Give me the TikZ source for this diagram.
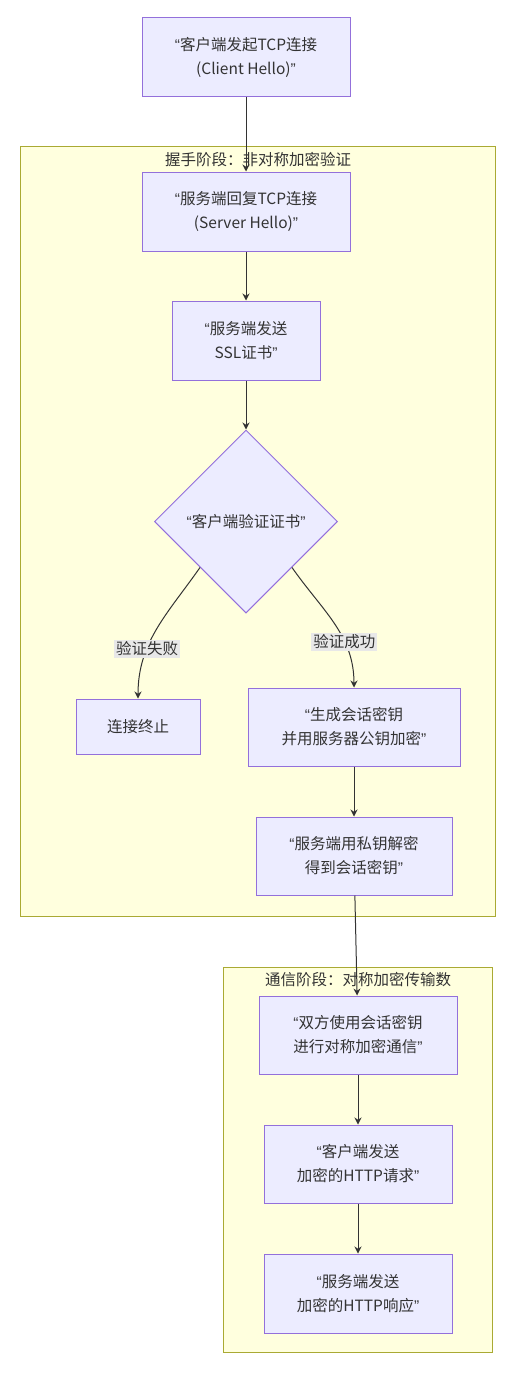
\documentclass[tikz,border=0pt]{standalone}
\usepackage{fontspec}
\setmainfont{Noto Sans CJK SC}
\newfontfamily\quotefont{Liberation Sans}
\newcommand{\oq}{{\quotefont “}}
\newcommand{\cq}{{\quotefont ”}}
\usetikzlibrary{positioning,shapes.geometric,arrows.meta}
\definecolor{nodefill}{HTML}{ECECFF}
\definecolor{nodeline}{HTML}{9370DB}
\definecolor{clusterfill}{HTML}{FFFFDE}
\definecolor{clusterline}{HTML}{AAAA33}
\definecolor{edgeline}{HTML}{333333}
\definecolor{labelfill}{HTML}{E8E8E8}

\begin{document}
\begin{tikzpicture}[x=1pt, y=-1pt, font=\fontsize{15.5}{24}\selectfont, text=edgeline,
        box/.style = {draw=nodeline, fill=nodefill, line width=1pt, align=center, minimum height=79pt, inner sep=0pt},
        decision/.style = {draw=nodeline, fill=nodefill, line width=1pt, diamond, aspect=1, minimum size=183pt, inner sep=0pt},
        cluster/.style = {draw=clusterline, fill=clusterfill, line width=1pt},
        edge/.style = {draw=edgeline, line width=1pt, -{Stealth[length=7pt,width=7pt]}},
        lbl/.style = {fill=labelfill, inner sep=2pt}]
        \useasboundingbox (0,0) rectangle (528,1378);

        % subgraphs
        \draw[cluster] (20,146) rectangle (495,916);
        \node (t1) at (258,160) {握手阶段：非对称加密验证};
        \draw[cluster] (223,967) rectangle (492,1352);
        \node (t2) at (358,980) {通信阶段：对称加密传输数};

        \node[box, minimum width=208pt] (hello) at (246,57.5) {\oq 客户端发起TCP连接\\(Client Hello)\cq};
        \node[box, minimum width=208pt] (reply) [below=74pt of hello] {\oq 服务端回复TCP连接\\(Server Hello)\cq};
        \node[box, minimum width=148pt] (cert) [below=49pt of reply] {\oq 服务端发送\\SSL证书\cq};
        \node[decision] (check) [below=49pt of cert] {\oq 客户端验证证书\cq};
        \node[box, minimum width=124pt, minimum height=55pt] (abort) [below=85pt of check, xshift=-108pt] {连接终止};
        \node[box, minimum width=212pt, minimum height=78pt] (genkey) [below=74pt of check, xshift=108pt] {\oq 生成会话密钥\\并用服务器公钥加密\cq};
        \node[box, minimum width=196pt, minimum height=78pt] (decrypt) [below=50pt of genkey] {\oq 服务端用私钥解密\\得到会话密钥\cq};
        \node[box, minimum width=198pt, minimum height=78pt] (sym) [below=100pt of decrypt, xshift=4pt] {\oq 双方使用会话密钥\\进行对称加密通信\cq};
        \node[box, minimum width=188pt, minimum height=78pt] (req) [below=50pt of sym] {\oq 客户端发送\\加密的HTTP请求\cq};
        \node[box, minimum width=188pt] (resp) [below=50pt of req] {\oq 服务端发送\\加密的HTTP响应\cq};

        \draw[edge] (hello) -- (reply);
        \draw[edge] (reply) -- (cert);
        \draw[edge] (cert) -- (check);
        \draw[edge] (check.south west) to[out=-125, in=90] node[lbl, pos=0.66] {验证失败} (abort);
        \draw[edge] (check.south east) to[out=-55, in=90] node[lbl, pos=0.66] {验证成功} (genkey);
        \draw[edge] (genkey) -- (decrypt);
        \draw[edge] (decrypt) -- (sym);
        \draw[edge] (sym) -- (req);
        \draw[edge] (req) -- (resp);
    \end{tikzpicture}
\end{document}
